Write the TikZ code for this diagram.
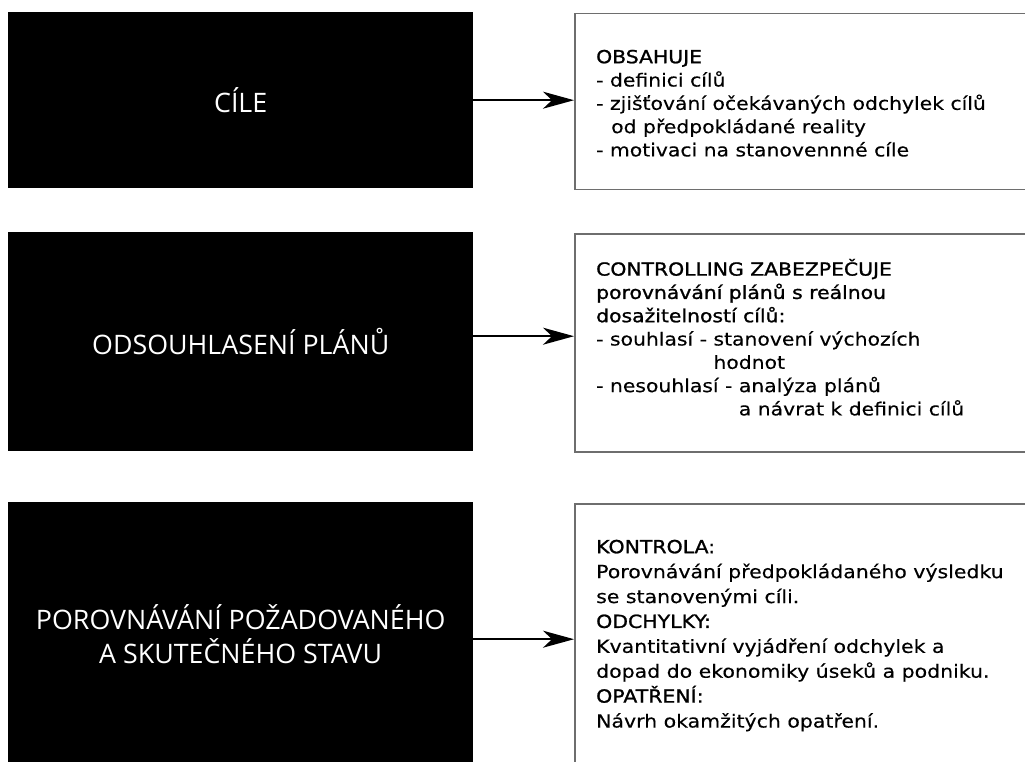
\documentclass[tikz,border=0pt]{standalone}
\usepackage{fontspec}
\setmainfont[FakeStretch=1.13,FakeBold=0.3]{DejaVu Sans}
\newfontfamily\leftfont{Open Sans}
\newfontfamily\hdr[FakeStretch=1.13,FakeBold=1.2]{DejaVu Sans}
\usetikzlibrary{arrows.meta}
\definecolor{boxgray}{HTML}{6E6E6E}
\begin{document}
\begin{tikzpicture}[x=1pt,y=-1pt,
  blackbox/.style={fill=black, draw=none, anchor=north west, inner sep=0},
  infobox/.style={draw=boxgray, line width=1.5pt, fill=white, anchor=north west, inner sep=0},
  lefttext/.style={text=white, font=\leftfont\fontsize{26.8}{34}\selectfont, align=center, inner sep=0},
  info/.style={anchor=north west, inner sep=0, align=left, font=\fontsize{18}{23.3}\selectfont},
  infob/.style={anchor=north west, inner sep=0, align=left, font=\fontsize{18.1}{24.9}\selectfont},
  conn/.style={-{Stealth[length=31pt,width=17pt,inset=9pt]}, line width=1.7pt}]
\useasboundingbox (0,0) rectangle (1025,762);
% row 1
\node[blackbox, minimum width=465pt, minimum height=176pt] (b1) at (8,12) {};
\node[lefttext] (t1) at (b1.center) {CÍLE};
\node[infobox, minimum width=480pt, minimum height=176pt] (r1) at (574,13) {};
\draw[conn] (b1.east) -- (b1.east -| r1.west);
\node[info] (i1) at (596,46.7) {\strut{\hdr OBSAHUJE}\\
- definici cílů\\
- zjišťování očekávaných odchylek cílů\\
\hspace{15pt}od předpokládané reality\\
- motivaci na stanovennné cíle};
% row 2
\node[blackbox, minimum width=465pt, minimum height=219pt] (b2) at (8,232) {};
\node[lefttext] (t2) at (b2.center) {ODSOUHLASENÍ PLÁNŮ};
\node[infobox, minimum width=480pt, minimum height=218pt] (r2) at (574,233) {};
\draw[conn] ([yshift=5.5pt]b2.east) -- ([yshift=5.5pt]b2.east -| r2.west);
\node[info] (i2) at (596,258.7) {\strut{\hdr CONTROLLING ZABEZPEČUJE}\\
{\hdr porovnávání plánů s reálnou}\\
{\hdr dosažitelností cílů:}\\
- souhlasí - stanovení výchozích\\
\phantom{- souhlasí - }hodnot\\
- nesouhlasí - analýza plánů\\
\phantom{- nesouhlasí - }a návrat k definici cílů};
% row 3
\node[blackbox, minimum width=465pt, minimum height=274pt] (b3) at (8,502) {};
\node[lefttext] (t3) at ([yshift=5pt]b3.center) {POROVNÁVÁNÍ POŽADOVANÉHO\\A SKUTEČNÉHO STAVU};
\node[infobox, minimum width=480pt, minimum height=280pt] (r3) at (574,503) {};
\draw[conn] (b3.east) -- (b3.east -| r3.west);
\node[infob] (i3) at (596,535.6) {\strut{\hdr KONTROLA:}\\
Porovnávání předpokládaného výsledku\\
se stanovenými cíli.\\
{\hdr ODCHYLKY:}\\
Kvantitativní vyjádření odchylek a\\
dopad do ekonomiky úseků a podniku.\\
{\hdr OPATŘENÍ:}\\
Návrh okamžitých opatření.};
\end{tikzpicture}
\end{document}
